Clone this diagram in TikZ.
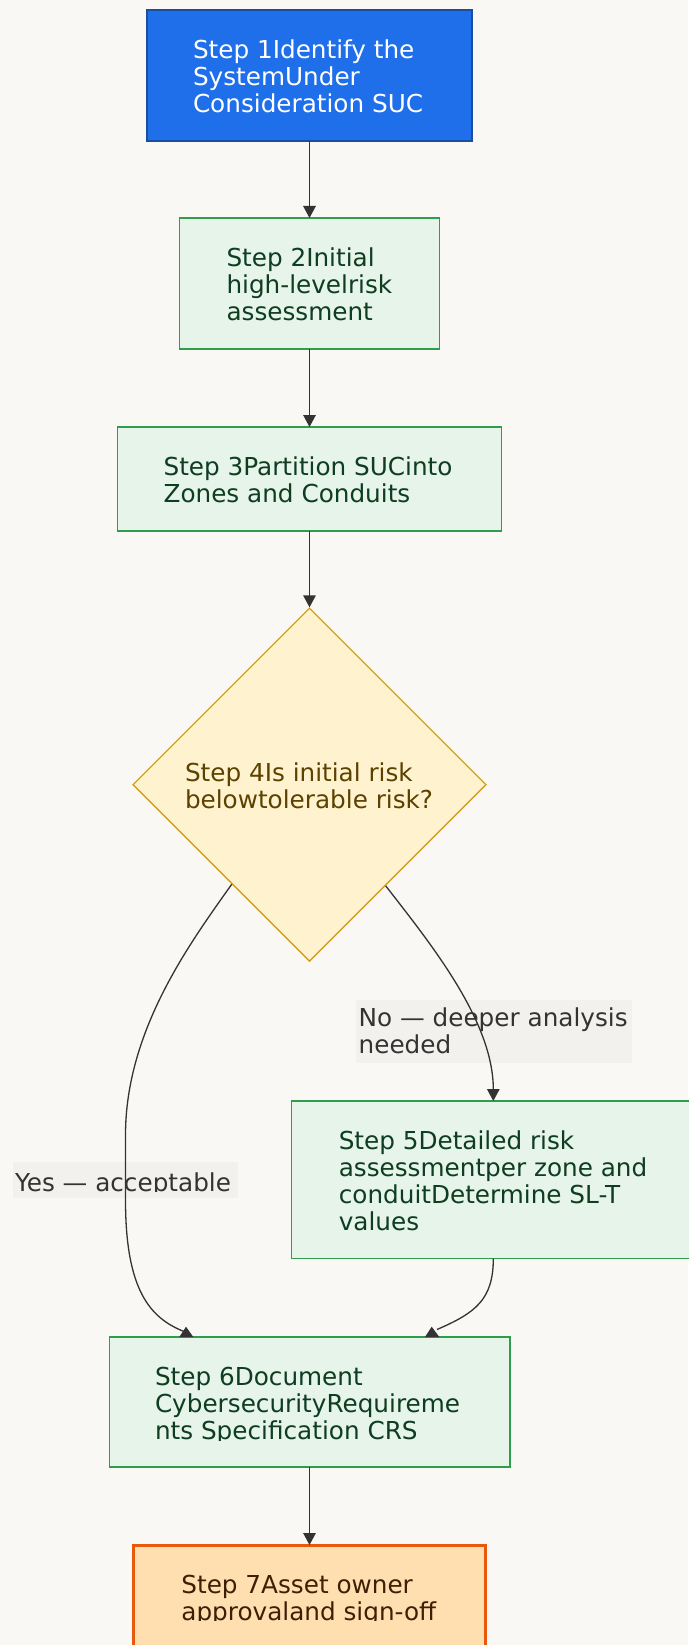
\documentclass[tikz,border=0pt]{standalone}
\usepackage{fontspec}
\setmainfont{DejaVu Sans}
\usetikzlibrary{shapes.geometric,arrows.meta,calc}
\definecolor{bgc}{HTML}{F9F8F4}
\definecolor{bluefill}{HTML}{1F6FEB}
\definecolor{blueline}{HTML}{1A4FA0}
\definecolor{gfill}{HTML}{E6F4EA}
\definecolor{gline}{HTML}{2E9E4A}
\definecolor{gtext}{HTML}{0E3D20}
\definecolor{dfill}{HTML}{FFF3CF}
\definecolor{dline}{HTML}{D4A017}
\definecolor{dtext}{HTML}{5C4100}
\definecolor{ofill}{HTML}{FFDFB0}
\definecolor{oline}{HTML}{E8590C}
\definecolor{otext}{HTML}{3D1F05}
\definecolor{lbg}{HTML}{F2F1EE}
\definecolor{ltext}{HTML}{333333}
\definecolor{lc}{HTML}{333333}
\begin{document}
\begin{tikzpicture}[x=1pt,y=-1pt,
  boxbase/.style={rectangle, inner sep=0pt, outer sep=0pt},
  greenbox/.style={boxbase, draw=gline, fill=gfill, line width=1.3pt},
  wire/.style={draw=lc, line width=1.3pt},
  conn/.style={wire, -{Triangle[length=12pt,width=12.5pt]}},
  tipfill/.style={fill=lc},
  txt/.style={inner sep=0pt, outer sep=0pt, anchor=base west, font=\fontsize{24.7}{27}\selectfont},
  lblbox/.style={boxbase, fill=lbg}
]
\fill[bgc] (0,0) rectangle (688,1645);
\useasboundingbox (0,0) rectangle (688,1645);

% boxes
\node[boxbase, draw=blueline, fill=bluefill, line width=1.3pt, minimum width=325pt, minimum height=131pt] (b1) at (309.5,75.5) {};
\node[greenbox, minimum width=260pt, minimum height=131pt] (b2) at (309.5,283.5) {};
\node[greenbox, minimum width=383.5pt, minimum height=104pt] (b3) at (309.5,479) {};
\node[diamond, aspect=1, draw=dline, fill=dfill, line width=1.3pt, inner sep=0pt, minimum width=353.4pt, minimum height=353.4pt] (d4) at (309.5,784.7) {};
\node[greenbox, minimum width=403.4pt, minimum height=157.6pt] (b5) at (493.3,1179.8) {};
\node[greenbox, minimum width=400.7pt, minimum height=130pt] (b6) at (309.5,1402) {};
\node[boxbase, draw=oline, fill=ofill, line width=3pt, minimum width=352.6pt, minimum height=104pt] (b7) at (309.5,1597) {};

% texts
\node[txt, text=white] (t1) at (193,58.7) {\begin{tabular}[t]{@{}l@{}}Step 1Identify the\\SystemUnder\\Consideration SUC\end{tabular}};
\node[txt, text=gtext] (t2) at (226.5,266.5) {\begin{tabular}[t]{@{}l@{}}Step 2Initial\\high-levelrisk\\assessment\end{tabular}};
\node[txt, text=gtext] (t3) at (163.6,475.5) {\begin{tabular}[t]{@{}l@{}}Step 3Partition SUCinto\\Zones and Conduits\end{tabular}};
\node[txt, text=dtext] (t4) at (185,781.2) {\begin{tabular}[t]{@{}l@{}}Step 4Is initial risk\\belowtolerable risk?\end{tabular}};
\node[txt, text=gtext] (t5) at (338.8,1149.3) {\begin{tabular}[t]{@{}l@{}}Step 5Detailed risk\\assessmentper zone and\\conduitDetermine SL-T\\values\end{tabular}};
\begin{scope}
\clip (100,1330) rectangle (520,1440);
\node[txt, text=gtext] (t6) at (155,1385) {\begin{tabular}[t]{@{}l@{}}Step 6Document\\CybersecurityRequireme\\nts Specification CRS\end{tabular}};
\end{scope}
\begin{scope}
\clip (130,1540) rectangle (490,1620.8);
\node[txt, text=otext] (t7) at (181.4,1593.5) {\begin{tabular}[t]{@{}l@{}}Step 7Asset owner\\approvaland sign-off\end{tabular}};
\end{scope}

% edge labels
\node[lblbox, minimum width=276pt, minimum height=63pt] (lno) at (493.5,1031) {};
\node[txt, text=ltext] (lnot) at (358.7,1026.5) {\begin{tabular}[t]{@{}l@{}}No — deeper analysis\\needed\end{tabular}};
\node[lblbox, minimum width=225.4pt, minimum height=36pt] (lyes) at (125.3,1180) {};
\begin{scope}
\clip (0,1150) rectangle (250,1191.8);
\node[txt, text=ltext] (lyest) at (15,1191.3) {Yes — acceptable};
\end{scope}

% connectors
\draw[conn] (b1.south) -- (b2.north);
\draw[conn] (b2.south) -- (b3.north);
\draw[conn] (b3.south) -- (d4.north);
\draw[conn] (d4.307.3) .. controls +(45,58) and +(0,-80) .. (b5.north);
\draw[wire] (d4.232.7) .. controls +(-41,58) and +(0,-105) .. (125.5,1135) -- (125.5,1200) .. controls +(0,90) and +(-34,-13.5) .. ([xshift=-125.5pt,yshift=5.5pt]b6.north);
\fill[tipfill] ([xshift=-130.2pt]b6.north) -- ([xshift=-116.2pt]b6.north) -- ([xshift=-123.5pt,yshift=10.3pt]b6.north) -- cycle;
\draw[wire] (b5.south) .. controls +(0,41.4) and +(38,-16.5) .. ([xshift=127.5pt,yshift=7.5pt]b6.north);
\fill[tipfill] ([xshift=115.5pt]b6.north) -- ([xshift=129.8pt]b6.north) -- ([xshift=122.2pt,yshift=10.3pt]b6.north) -- cycle;
\draw[conn] (b6.south) -- (b7.north);
\end{tikzpicture}
\end{document}
